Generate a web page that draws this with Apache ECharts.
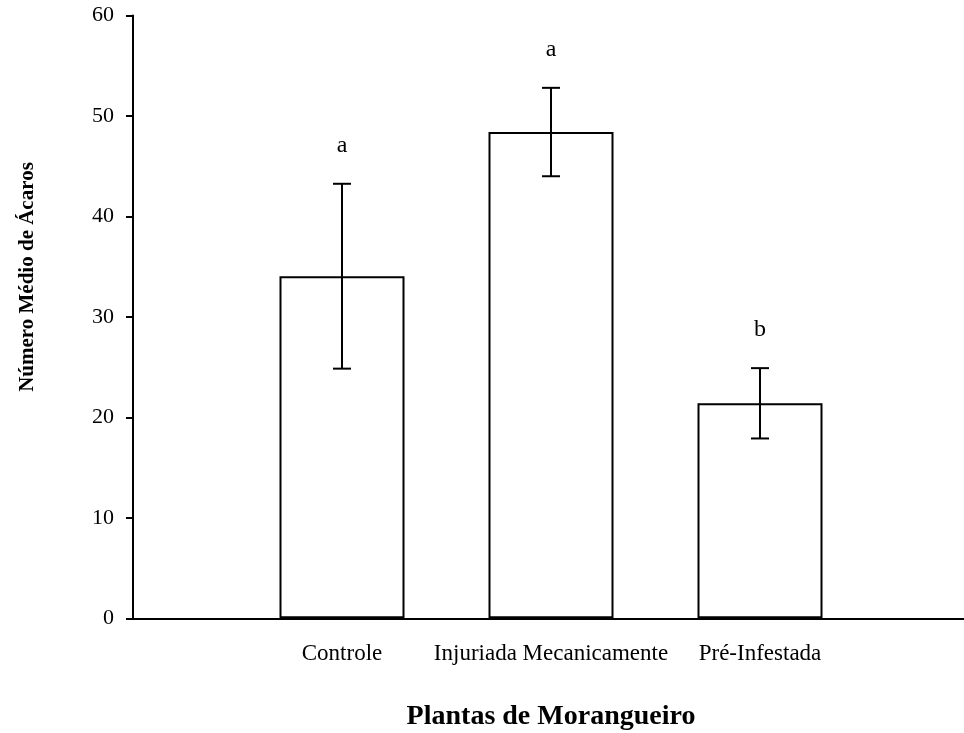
<!DOCTYPE html>
<html>
<head>
<meta charset="utf-8">
<script src="https://cdn.jsdelivr.net/npm/echarts@6/dist/echarts.min.js"></script>
<style>
  html, body { margin: 0; padding: 0; background: #fff; }
  #chart { width: 964px; height: 733px; }
</style>
</head>
<body>
<div id="chart"></div>
<script>
// dados
const categories = ['Controle', 'Injuriada Mecanicamente', 'Pré-Infestada'];
const means = [34.05, 48.4, 21.4];
const errors = [9.2, 4.4, 3.5];
const letters = ['a', 'a', 'b'];
const yTicks = [0, 10, 20, 30, 40, 50, 60];

const FONT = '"Liberation Serif", "Times New Roman", serif';

// eixo com posições vazias nas pontas (como no original)
const axisCats = [''].concat(categories, ['']);
const barData = [null].concat(means, [null]);
const errData = categories.map((c, i) => [i + 1, means[i], errors[i], letters[i]]);

const chart = echarts.init(document.getElementById('chart'), null, { renderer: 'canvas' });

const option = {
  animation: false,
  backgroundColor: '#fff',
  grid: { left: 133, width: 836, top: 15.5, bottom: 114.7, outerBoundsMode: 'none', containLabel: false },
  xAxis: {
    type: 'category',
    data: axisCats,
    boundaryGap: false,
    axisLine: { lineStyle: { color: '#000', width: 2 } },
    axisTick: { show: false },
    axisLabel: { color: '#000', fontFamily: FONT, fontSize: 23, margin: 24, interval: 0 },
    splitLine: { show: false }
  },
  yAxis: {
    type: 'value',
    min: yTicks[0],
    max: yTicks[yTicks.length - 1],
    interval: 10,
    axisLine: { show: true, lineStyle: { color: '#000', width: 2 } },
    axisTick: { show: true, inside: false, length: 7, lineStyle: { color: '#000', width: 2 } },
    axisLabel: { color: '#000', fontFamily: FONT, fontSize: 22, margin: 19 },
    splitLine: { show: false }
  },
  series: [
    {
      type: 'bar',
      data: barData,
      barWidth: 125,
      itemStyle: { color: '#fff', borderColor: '#000', borderWidth: 2 }
    },
    {
      type: 'custom',
      data: errData,
      z: 10,
      renderItem: function (params, api) {
        const x = api.value(0);
        const m = api.value(1);
        const e = api.value(2);
        const top = api.coord([x, m + e]);
        const bot = api.coord([x, m - e]);
        const cap = 9;
        const st = { stroke: '#000', lineWidth: 2 };
        return {
          type: 'group',
          children: [
            { type: 'line', shape: { x1: top[0], y1: top[1], x2: bot[0], y2: bot[1] }, style: st },
            { type: 'line', shape: { x1: top[0] - cap, y1: top[1], x2: top[0] + cap, y2: top[1] }, style: st },
            { type: 'line', shape: { x1: bot[0] - cap, y1: bot[1], x2: bot[0] + cap, y2: bot[1] }, style: st },
            {
              type: 'text',
              style: {
                x: top[0], y: top[1] - 38,
                text: api.value(3),
                fill: '#000',
                font: '24px ' + FONT,
                textAlign: 'center',
                textVerticalAlign: 'middle'
              }
            }
          ]
        };
      }
    }
  ],
  graphic: [
    {
      type: 'text',
      x: 28, y: 277,
      rotation: Math.PI / 2,
      style: {
        text: 'Número Médio de Ácaros',
        fill: '#000',
        font: 'bold 21px ' + FONT,
        textAlign: 'center',
        textVerticalAlign: 'middle'
      }
    },
    {
      type: 'text',
      x: 551, y: 717,
      style: {
        text: 'Plantas de Morangueiro',
        fill: '#000',
        font: 'bold 28px ' + FONT,
        textAlign: 'center',
        textVerticalAlign: 'middle'
      }
    }
  ]
};

chart.setOption(option);
</script>
</body>
</html>
